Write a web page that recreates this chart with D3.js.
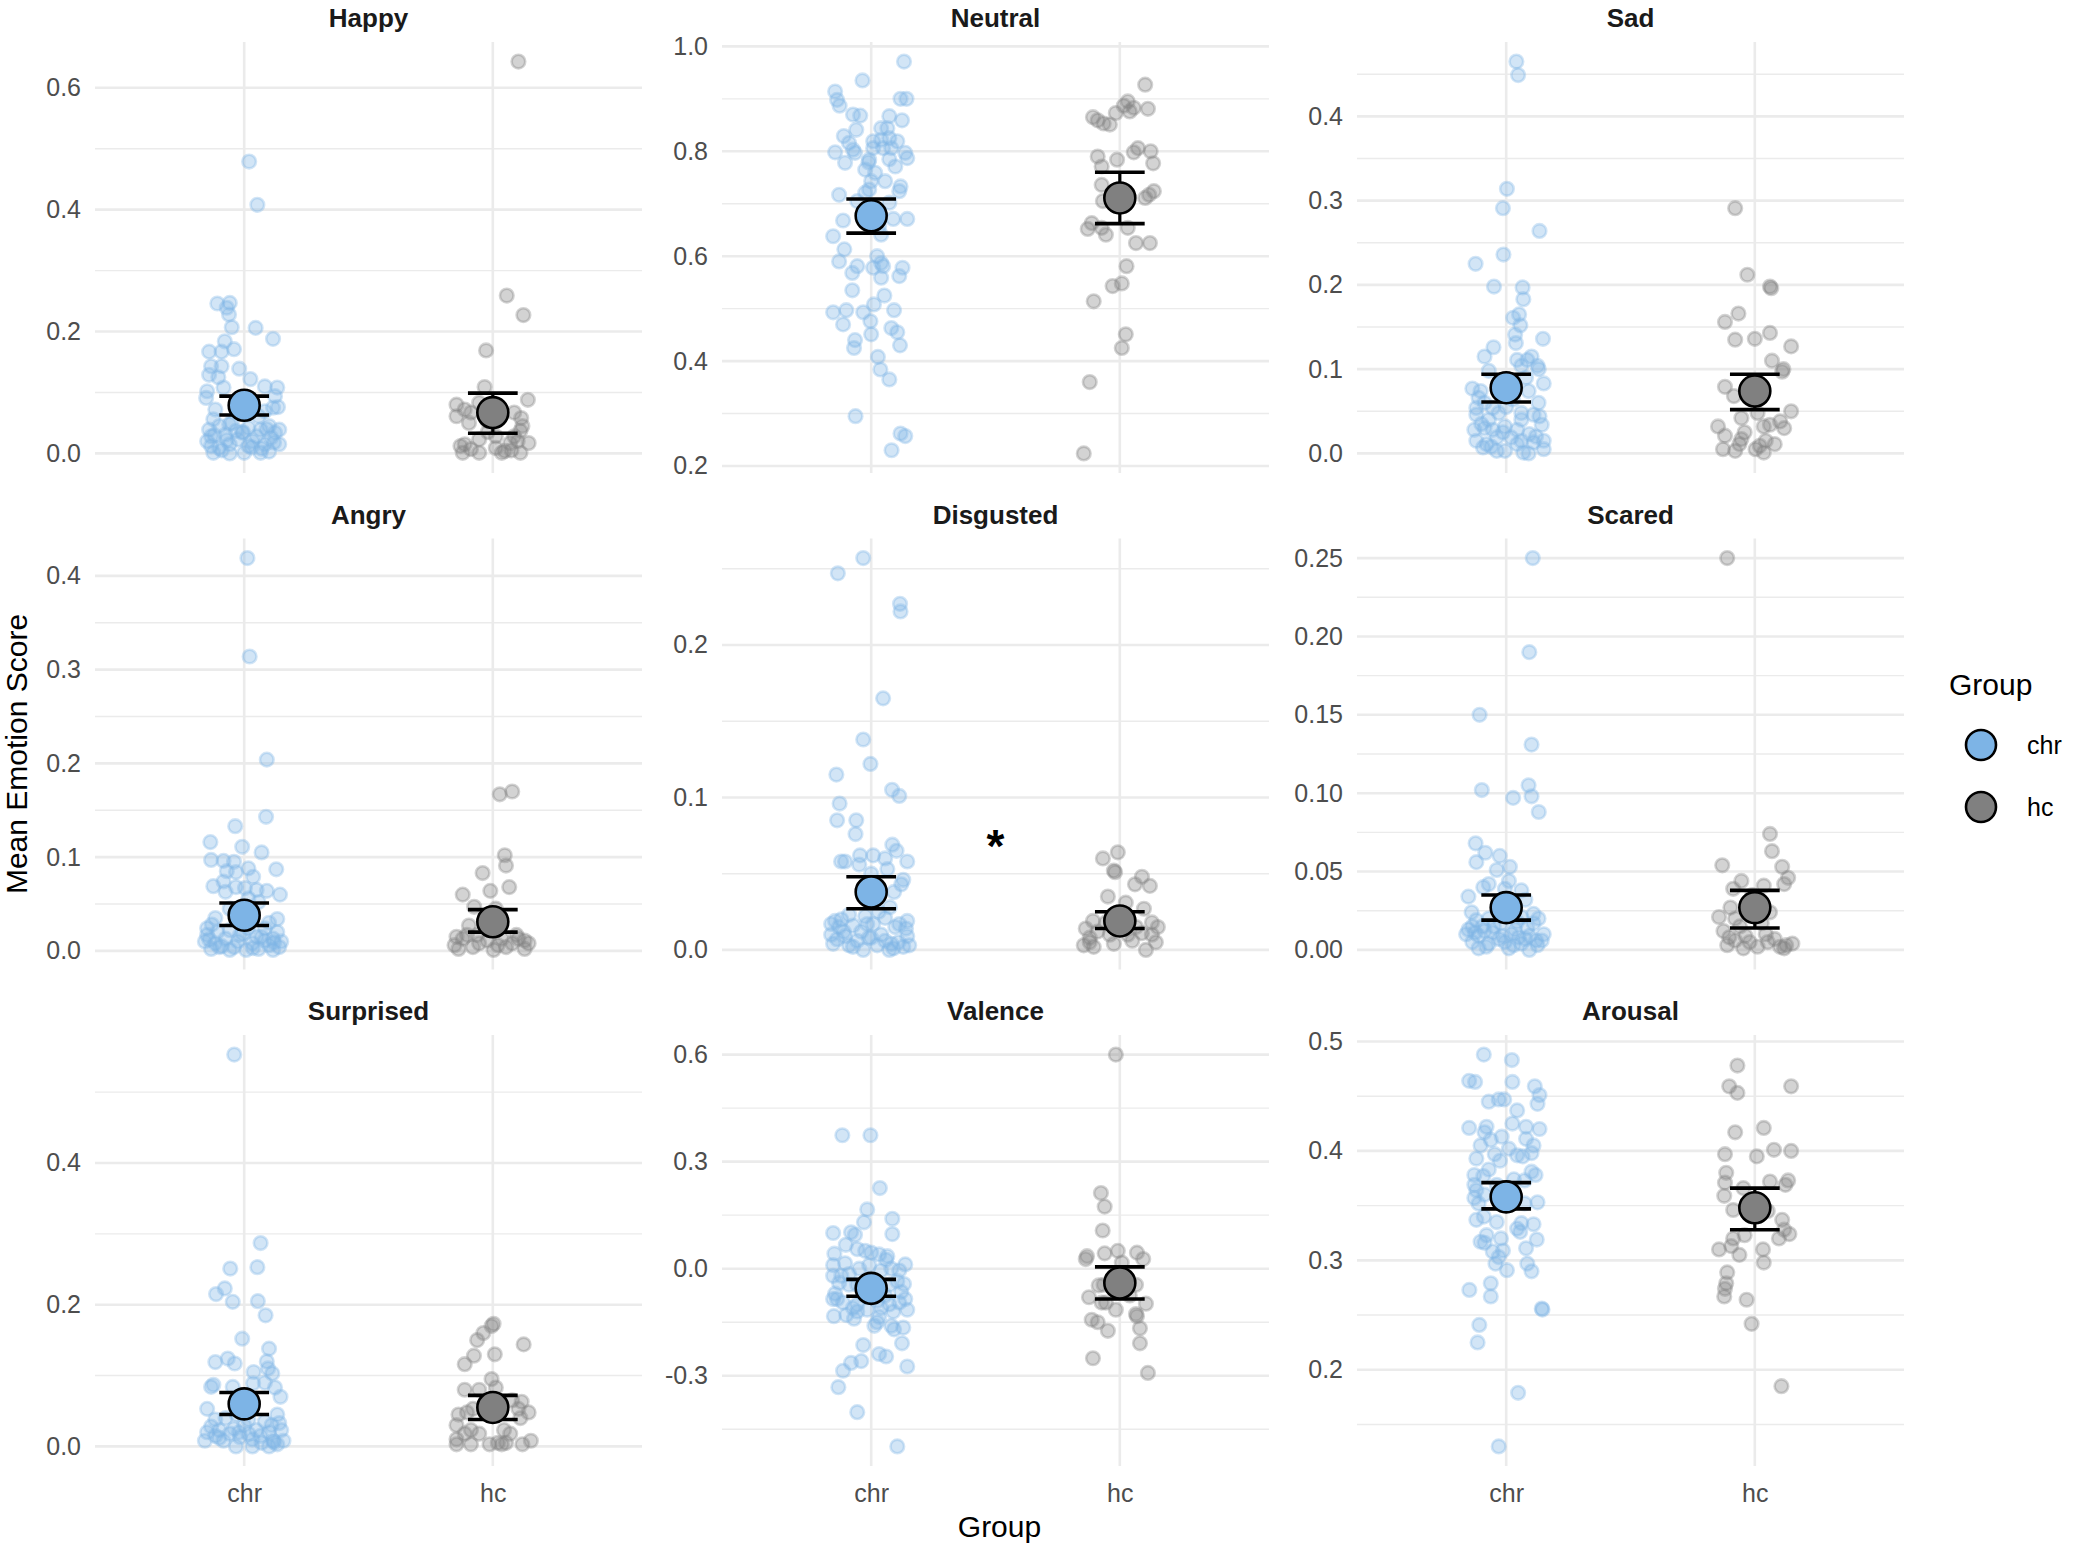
<!DOCTYPE html>
<html><head><meta charset="utf-8">
<script src="https://cdn.jsdelivr.net/npm/d3@7"></script>
<style>body{margin:0;background:#fff}svg{display:block}</style>
</head><body>
<svg id="chart" width="2075" height="1548"></svg>
<script>
// ---------- DATA ----------
const emotions = ["Happy","Neutral","Sad","Angry","Disgusted","Scared","Surprised","Valence","Arousal"];
const groups = ["chr","hc"];

// summary (mean and error-bar limits) per emotion
const meanChr = [0.079, 0.677, 0.078, 0.038, 0.038, 0.027, 0.060, -0.055, 0.358];
const loChr   = [0.063, 0.644, 0.061, 0.027, 0.027, 0.019, 0.045, -0.077, 0.347];
const hiChr   = [0.094, 0.709, 0.094, 0.051, 0.048, 0.035, 0.076, -0.030, 0.371];
const meanHc  = [0.067, 0.711, 0.074, 0.031, 0.019, 0.027, 0.055, -0.040, 0.348];
const loHc    = [0.033, 0.662, 0.052, 0.020, 0.014, 0.014, 0.038, -0.085, 0.328];
const hiHc    = [0.099, 0.760, 0.094, 0.044, 0.025, 0.038, 0.072, 0.005, 0.366];

// tick values / labels per panel
const ticksHappy = [0, 0.2, 0.4, 0.6];            const labelsHappy = ["0.0","0.2","0.4","0.6"];
const ticksNeutral = [0.2, 0.4, 0.6, 0.8, 1.0];   const labelsNeutral = ["0.2","0.4","0.6","0.8","1.0"];
const ticksSad = [0, 0.1, 0.2, 0.3, 0.4];         const labelsSad = ["0.0","0.1","0.2","0.3","0.4"];
const ticksAngry = [0, 0.1, 0.2, 0.3, 0.4];       const labelsAngry = ["0.0","0.1","0.2","0.3","0.4"];
const ticksDisgusted = [0, 0.1, 0.2];             const labelsDisgusted = ["0.0","0.1","0.2"];
const ticksScared = [0, 0.05, 0.10, 0.15, 0.20, 0.25]; const labelsScared = ["0.00","0.05","0.10","0.15","0.20","0.25"];
const ticksSurprised = [0, 0.2, 0.4];             const labelsSurprised = ["0.0","0.2","0.4"];
const ticksValence = [-0.3, 0, 0.3, 0.6];         const labelsValence = ["-0.3","0.0","0.3","0.6"];
const ticksArousal = [0.2, 0.3, 0.4, 0.5];        const labelsArousal = ["0.2","0.3","0.4","0.5"];

// significance annotation
const annotPanel = ["Disgusted"];
const annotY = [0.072];
const annotText = ["*"];

// individual participant scores (values) and their jitter offsets (in category units)
const happyChr = [0.479,0.408,0.246,0.247,0.239,0.228,0.207,0.206,0.188,0.184,0.167,0.167,0.171,0.143,0.143,0.139,0.129,0.125,0.122,0.102,0.108,0.110,0.108,0.091,0.094,0.075,0.076,0.069,0.056,0.039,0.045,0.050,0.042,0.039,0.034,0.039,0.028,0.031,0.034,0.028,0.026,0.012,0.009,0.015,0.012,0.015,0.015,0.001,0.0,0.001,0.001,0.020,0.023,0.020,0.045,0.037,0.072,0.061,0.005,0.018,0.03,0.008,0.04,0.022,0.01,0.035,0.003,0.048];
const happyChrJit = [0.02,0.053,-0.108,-0.058,-0.07,-0.061,-0.05,0.046,0.116,-0.078,-0.141,-0.091,-0.041,-0.133,-0.091,-0.02,-0.141,-0.104,0.025,-0.149,-0.083,0.083,0.133,-0.153,0.124,0.116,0.136,0.083,-0.124,-0.141,-0.1,-0.05,0.017,0.066,0.124,0.141,-0.133,-0.075,-0.008,0.05,0.108,-0.133,-0.1,-0.058,0.017,0.083,0.141,-0.124,-0.058,0.0,0.066,-0.149,-0.025,0.033,0.1,-0.033,-0.116,0.058,-0.09,0.12,-0.12,0.07,0.09,-0.07,0.03,-0.005,0.1,-0.06];
const happyHc = [0.643,0.259,0.227,0.169,0.109,0.088,0.080,0.083,0.061,0.067,0.050,0.058,0.045,0.037,0.028,0.017,0.015,0.023,0.028,0.017,0.001,0.001,0.001,0.004,0.001,0.009,0.007,0.053,0.067,0.072,0.012,0.035,0.005,0.02];
const happyHcJit = [0.103,0.056,0.123,-0.027,-0.033,0.141,-0.146,-0.055,-0.146,-0.088,-0.096,0.114,0.119,0.111,0.086,0.144,-0.113,-0.055,0.012,0.07,-0.121,-0.055,0.036,0.048,0.111,0.012,-0.088,-0.022,0.086,-0.113,-0.13,-0.02,0.075,0.1];

const neutralChr = [0.971,0.935,0.914,0.898,0.887,0.90,0.90,0.870,0.868,0.867,0.859,0.841,0.844,0.844,0.829,0.816,0.819,0.822,0.825,0.819,0.798,0.803,0.797,0.806,0.806,0.806,0.797,0.787,0.778,0.784,0.779,0.785,0.765,0.771,0.759,0.743,0.743,0.733,0.727,0.724,0.717,0.721,0.705,0.702,0.668,0.671,0.671,0.657,0.638,0.641,0.613,0.590,0.600,0.587,0.581,0.581,0.568,0.578,0.578,0.562,0.559,0.535,0.525,0.508,0.493,0.497,0.493,0.497,0.470,0.476,0.463,0.455,0.451,0.440,0.430,0.425,0.408,0.384,0.365,0.295,0.262,0.257,0.230];
const neutralChrJit = [0.132,-0.035,-0.145,-0.137,-0.127,0.118,0.142,-0.073,-0.044,0.073,0.124,-0.06,0.04,0.065,-0.11,-0.089,0.008,0.04,0.073,0.105,-0.145,-0.073,-0.065,0.008,0.048,0.081,0.137,0.145,-0.105,-0.008,-0.011,0.073,-0.024,0.097,0.016,0.056,0.0,0.118,-0.008,0.113,-0.129,-0.024,-0.056,0.073,-0.113,0.089,0.145,0.032,-0.153,0.04,-0.108,-0.129,0.024,0.04,0.048,-0.056,-0.076,0.008,0.126,0.113,0.04,-0.076,0.053,0.011,-0.153,-0.1,-0.032,0.092,-0.113,-0.003,0.081,0.105,0.0,-0.065,0.116,-0.069,0.027,0.037,0.073,-0.063,0.118,0.137,0.082];
const neutralHc = [0.927,0.895,0.887,0.883,0.881,0.873,0.876,0.865,0.859,0.853,0.851,0.806,0.798,0.800,0.790,0.784,0.777,0.771,0.736,0.724,0.717,0.711,0.705,0.663,0.652,0.654,0.641,0.654,0.625,0.625,0.581,0.543,0.548,0.514,0.451,0.425,0.360,0.224];
const neutralHcJit = [0.102,0.032,0.016,0.056,0.113,-0.016,0.04,-0.108,-0.089,-0.065,-0.04,0.073,0.056,0.124,-0.089,-0.011,0.134,-0.073,-0.073,0.137,0.118,0.102,-0.068,-0.113,-0.129,-0.073,-0.056,0.032,0.065,0.121,0.027,-0.029,0.008,-0.105,0.024,0.008,-0.121,-0.145];

const sadChr = [0.465,0.449,0.314,0.291,0.264,0.236,0.225,0.198,0.197,0.183,0.161,0.165,0.152,0.141,0.136,0.131,0.126,0.115,0.115,0.111,0.111,0.104,0.098,0.104,0.100,0.083,0.077,0.074,0.074,0.066,0.060,0.064,0.054,0.054,0.046,0.048,0.048,0.046,0.044,0.040,0.028,0.030,0.028,0.032,0.028,0.023,0.034,0.025,0.015,0.011,0.019,0.015,0.013,0.015,0.003,0.003,0.001,0.0,0.005,0.007,0.011,0.019,0.055,0.07,0.035,0.02,0.008,0.09,0.06,0.04];
const sadChrJit = [0.041,0.048,0.003,-0.013,0.134,-0.011,-0.123,-0.049,0.066,0.069,0.028,0.052,0.057,0.036,0.148,0.039,-0.051,-0.087,0.102,0.085,0.044,0.126,-0.07,0.061,0.131,0.151,-0.136,-0.103,0.09,-0.111,-0.087,0.028,-0.12,-0.054,-0.12,-0.03,0.061,0.11,0.134,0.061,-0.128,-0.087,-0.054,-0.005,0.044,0.093,0.143,-0.013,-0.12,-0.079,-0.038,0.061,0.11,0.151,-0.038,-0.005,0.069,0.09,0.151,-0.093,0.044,0.02,0.0,0.02,-0.1,0.12,-0.06,0.08,0.13,-0.07];
const sadHc = [0.291,0.212,0.198,0.196,0.166,0.156,0.135,0.136,0.143,0.127,0.110,0.100,0.097,0.079,0.068,0.050,0.042,0.048,0.038,0.032,0.025,0.032,0.034,0.030,0.021,0.017,0.011,0.015,0.011,0.005,0.003,0.005,0.001,0.009];
const sadHcJit = [-0.079,-0.03,0.061,0.066,-0.066,-0.12,-0.079,0.0,0.061,0.146,0.069,0.115,0.11,-0.12,-0.084,0.146,-0.054,0.011,0.102,-0.148,-0.041,0.036,0.061,0.118,-0.12,-0.054,-0.062,0.044,0.08,-0.128,-0.079,0.003,0.036,0.02];

const angryChr = [0.419,0.314,0.204,0.143,0.133,0.116,0.111,0.105,0.097,0.096,0.095,0.087,0.085,0.084,0.088,0.079,0.069,0.074,0.068,0.067,0.065,0.064,0.060,0.063,0.056,0.052,0.035,0.045,0.034,0.017,0.020,0.022,0.024,0.024,0.020,0.010,0.008,0.013,0.010,0.008,0.011,0.010,0.002,0.001,0.001,0.002,0.001,0.004,0.006,0.024,0.017,0.015,0.013,0.004,0.004,0.005,0.015,0.028,0.009,0.003,0.018,0.03,0.012];
const angryChrJit = [0.013,0.022,0.091,0.088,-0.036,-0.136,-0.008,0.07,-0.133,-0.083,-0.041,0.129,-0.07,-0.033,0.017,0.036,-0.124,-0.083,-0.033,0.003,0.05,0.091,0.144,-0.075,0.017,0.058,-0.116,-0.058,0.133,-0.149,-0.108,-0.058,0.017,0.083,0.133,-0.158,-0.116,-0.075,-0.025,0.033,0.083,0.149,-0.133,-0.058,0.008,0.058,0.116,-0.1,0.1,-0.149,-0.017,0.05,0.116,-0.041,0.141,-0.09,0.07,-0.13,0.12,0.035,-0.005,0.1,-0.14];
const angryHc = [0.170,0.167,0.102,0.091,0.083,0.068,0.064,0.060,0.047,0.045,0.027,0.015,0.013,0.017,0.011,0.013,0.017,0.011,0.008,0.002,0.004,0.001,0.004,0.002,0.008,0.008,0.013,0.006,0.006,0.017];
const angryHcJit = [0.078,0.028,0.048,0.053,-0.041,0.066,-0.01,-0.121,-0.075,0.012,-0.096,-0.146,-0.121,-0.063,-0.022,0.036,0.095,0.128,0.144,-0.138,-0.08,0.003,0.053,0.128,0.078,-0.055,0.103,-0.154,0.02,-0.104];

const disgustedChr = [0.257,0.247,0.227,0.222,0.165,0.138,0.122,0.115,0.105,0.101,0.096,0.085,0.085,0.076,0.069,0.065,0.058,0.058,0.062,0.062,0.060,0.058,0.056,0.053,0.050,0.046,0.043,0.038,0.019,0.023,0.022,0.021,0.019,0.015,0.016,0.017,0.015,0.010,0.009,0.012,0.010,0.009,0.004,0.003,0.0,0.003,0.004,0.002,0.003,0.006,0.006,0.007,0.008,0.017,0.002,0.0,0.017,0.017,0.025,0.012,0.005,0.02,0.014,0.008,0.028,0.001];
const disgustedChrJit = [-0.032,-0.134,0.116,0.118,0.048,-0.032,-0.003,-0.14,0.084,0.113,-0.127,-0.137,-0.06,-0.063,0.085,0.102,-0.121,-0.105,-0.045,0.008,0.056,0.145,-0.048,0.065,0.0,0.129,0.121,0.092,-0.145,-0.089,-0.024,0.056,0.145,-0.129,-0.073,0.008,0.097,-0.161,-0.105,-0.04,0.04,0.145,-0.153,-0.089,-0.032,0.024,0.081,0.129,0.153,-0.056,0.056,-0.137,0.0,0.113,-0.073,0.073,-0.161,-0.016,0.03,-0.11,0.11,-0.12,0.14,-0.01,0.075,0.09];
const disgustedHc = [0.064,0.060,0.052,0.051,0.048,0.043,0.042,0.035,0.031,0.027,0.019,0.018,0.018,0.014,0.015,0.008,0.010,0.010,0.011,0.003,0.002,0.004,0.0,0.005,0.005,0.015,0.010,0.022,0.006,0.012];
const disgustedHcJit = [-0.008,-0.068,-0.024,-0.019,0.089,0.061,0.121,-0.048,0.024,0.097,-0.108,-0.056,0.129,-0.137,0.153,-0.121,-0.04,0.032,0.089,-0.145,-0.105,-0.024,0.105,0.145,-0.121,0.065,0.129,0.0,0.05,-0.09];

const scaredChr = [0.250,0.190,0.150,0.131,0.102,0.105,0.097,0.098,0.088,0.068,0.062,0.060,0.056,0.053,0.051,0.044,0.042,0.040,0.039,0.038,0.034,0.032,0.024,0.023,0.019,0.020,0.021,0.015,0.015,0.017,0.018,0.017,0.010,0.009,0.011,0.010,0.009,0.010,0.005,0.004,0.005,0.004,0.003,0.001,0.001,0.0,0.007,0.007,0.013,0.013,0.006,0.012,0.008,0.015,0.003,0.02,0.011,0.006,0.025,0.014,0.002,0.009];
const scaredChrJit = [0.107,0.093,-0.107,0.102,-0.098,0.09,0.028,0.102,0.131,-0.123,-0.084,-0.026,-0.12,0.015,-0.038,0.011,-0.07,-0.092,-0.005,0.061,-0.152,0.077,-0.139,0.11,-0.12,-0.07,0.061,-0.136,-0.095,-0.021,0.044,0.11,-0.161,-0.111,-0.054,0.02,0.093,0.151,-0.136,-0.07,-0.005,0.061,0.126,-0.111,0.011,0.093,-0.03,0.077,-0.152,0.036,0.143,-0.087,0.05,-0.05,0.03,0.13,-0.125,0.12,-0.03,0.085,-0.08,-0.015];
const scaredHc = [0.250,0.074,0.063,0.054,0.053,0.046,0.042,0.044,0.039,0.041,0.027,0.021,0.020,0.024,0.012,0.008,0.009,0.010,0.003,0.001,0.002,0.002,0.003,0.004,0.001,0.005,0.005,0.006,0.017,0.035,0.015,0.007];
const scaredHcJit = [-0.111,0.061,0.069,-0.131,0.11,0.134,0.118,-0.054,-0.087,0.036,-0.098,-0.144,-0.079,0.061,-0.126,-0.103,-0.038,0.044,-0.111,-0.046,0.011,0.102,0.126,0.151,0.118,-0.021,0.052,-0.079,0.028,-0.01,-0.06,0.08];

const surprisedChr = [0.553,0.287,0.251,0.253,0.223,0.215,0.204,0.205,0.185,0.152,0.138,0.119,0.124,0.117,0.120,0.110,0.105,0.103,0.087,0.084,0.090,0.083,0.084,0.089,0.070,0.053,0.045,0.038,0.040,0.038,0.035,0.033,0.020,0.023,0.025,0.023,0.020,0.023,0.008,0.008,0.013,0.010,0.008,0.008,0.015,0.0,0.0,0.0,0.003,0.018,0.018,0.015,0.028,0.030,0.005,0.012,0.03,0.02,0.045,0.006];
const surprisedChrJit = [-0.04,0.066,-0.056,0.053,-0.078,-0.113,-0.046,0.055,0.086,-0.008,0.1,-0.116,-0.066,-0.038,0.091,0.096,0.038,0.113,-0.124,-0.133,0.083,0.124,-0.046,0.036,0.146,-0.149,0.133,-0.116,-0.075,0.017,0.083,0.141,-0.149,-0.1,-0.041,0.05,0.1,0.149,-0.158,-0.083,-0.017,0.033,0.116,0.158,-0.116,-0.033,0.033,0.1,0.133,0.017,-0.058,0.066,-0.133,0.0,0.07,-0.1,0.11,-0.02,-0.03,0.12];
const surprisedHc = [0.173,0.170,0.160,0.150,0.144,0.128,0.130,0.116,0.095,0.080,0.080,0.083,0.065,0.063,0.045,0.048,0.053,0.048,0.053,0.030,0.023,0.018,0.023,0.018,0.010,0.003,0.003,0.005,0.005,0.003,0.008,0.003,0.003,0.018,0.040];
const surprisedHcJit = [0.003,-0.005,-0.038,-0.063,0.124,-0.076,0.008,-0.113,-0.005,-0.113,-0.055,0.012,0.078,0.116,-0.138,-0.104,-0.08,0.144,0.103,-0.146,-0.088,-0.055,0.045,0.07,-0.146,-0.088,-0.013,0.02,0.053,0.119,0.153,-0.146,0.036,-0.113,0.111];

const valenceChr = [0.374,0.374,0.226,0.166,0.140,0.130,0.100,0.102,0.095,0.097,0.067,0.055,0.050,0.045,0.042,0.040,0.035,0.012,0.010,0.015,0.0,-0.005,0.0,-0.005,-0.020,-0.015,-0.040,-0.043,-0.045,-0.045,-0.065,-0.070,-0.085,-0.085,-0.085,-0.095,-0.100,-0.100,-0.095,-0.110,-0.110,-0.115,-0.120,-0.120,-0.133,-0.140,-0.135,-0.150,-0.160,-0.160,-0.165,-0.170,-0.209,-0.214,-0.239,-0.246,-0.259,-0.264,-0.274,-0.286,-0.332,-0.402,-0.498,0.010,-0.075,-0.075,-0.035,-0.045,-0.115,-0.06,-0.02,-0.09,0.025,-0.13];
const valenceChrJit = [-0.116,-0.003,0.035,-0.016,0.085,-0.029,-0.153,-0.081,-0.065,0.085,-0.102,-0.056,-0.024,0.0,-0.148,0.032,0.065,0.137,-0.153,-0.105,-0.048,0.04,0.081,0.113,-0.153,-0.089,-0.129,0.132,-0.056,0.073,0.121,-0.145,-0.137,-0.153,0.137,-0.113,-0.056,0.073,0.113,-0.073,0.04,0.145,-0.056,0.089,-0.15,-0.069,0.032,0.024,0.013,0.081,0.129,0.092,0.124,-0.032,0.032,0.06,-0.04,-0.081,0.145,-0.113,-0.132,-0.056,0.105,-0.008,-0.032,0.056,0.105,-0.089,-0.016,0.0,-0.12,0.025,0.06,-0.1];
const valenceHc = [0.600,0.212,0.174,0.107,0.035,0.027,0.043,0.050,0.045,0.027,0.017,-0.047,-0.045,-0.080,-0.095,-0.115,-0.098,-0.127,-0.133,-0.143,-0.150,-0.174,-0.167,-0.209,-0.251,-0.292,-0.075,-0.045,-0.025,-0.095];
const valenceHcJit = [-0.016,-0.076,-0.061,-0.069,-0.132,-0.137,-0.061,-0.008,0.069,0.094,0.008,-0.085,-0.065,-0.124,-0.073,-0.016,0.105,0.065,0.069,-0.113,-0.089,-0.048,0.081,0.081,-0.108,0.113,0.04,0.065,0.008,-0.056];

const arousalChr = [0.488,0.483,0.464,0.463,0.463,0.459,0.451,0.443,0.445,0.447,0.447,0.437,0.425,0.421,0.422,0.422,0.420,0.417,0.413,0.410,0.411,0.405,0.405,0.402,0.398,0.396,0.395,0.397,0.393,0.391,0.383,0.378,0.381,0.378,0.377,0.374,0.373,0.369,0.364,0.369,0.357,0.352,0.353,0.352,0.337,0.340,0.335,0.334,0.333,0.329,0.326,0.323,0.320,0.319,0.317,0.311,0.316,0.308,0.309,0.303,0.297,0.291,0.297,0.290,0.273,0.279,0.267,0.256,0.255,0.241,0.225,0.179,0.130,0.358,0.360];
const arousalChrJit = [-0.09,0.023,-0.149,-0.125,0.025,0.115,0.134,0.126,-0.07,-0.03,-0.008,0.044,0.025,-0.149,-0.079,0.08,0.134,-0.087,-0.018,-0.062,0.08,0.11,-0.103,0.011,0.102,0.044,0.066,-0.046,-0.12,-0.025,-0.07,-0.128,0.102,0.118,-0.092,0.031,0.074,-0.128,-0.12,-0.038,-0.128,-0.111,0.126,0.074,-0.12,-0.09,-0.038,0.061,0.11,0.044,0.056,-0.079,-0.021,0.123,-0.103,0.08,-0.087,-0.054,-0.013,-0.03,-0.043,0.003,0.085,0.102,-0.148,-0.062,-0.062,0.143,0.146,-0.108,-0.115,0.048,-0.03,-0.005,-0.087];
const arousalHc = [0.478,0.459,0.453,0.459,0.417,0.421,0.401,0.400,0.397,0.395,0.380,0.371,0.372,0.373,0.369,0.366,0.359,0.346,0.345,0.337,0.328,0.324,0.320,0.323,0.320,0.310,0.313,0.310,0.305,0.298,0.289,0.279,0.274,0.267,0.264,0.242,0.185];
const arousalHcJit = [-0.07,-0.103,-0.07,0.146,-0.079,0.036,0.077,0.146,-0.12,0.008,-0.115,-0.12,0.061,0.134,0.123,-0.046,-0.123,-0.087,0.052,0.11,0.118,0.139,0.097,-0.041,-0.087,-0.144,-0.095,0.033,-0.062,0.036,-0.111,-0.115,-0.12,-0.123,-0.033,-0.013,0.107];

// ---------- assemble ----------
const chrValues = [happyChr, neutralChr, sadChr, angryChr, disgustedChr, scaredChr, surprisedChr, valenceChr, arousalChr];
const chrJitter = [happyChrJit, neutralChrJit, sadChrJit, angryChrJit, disgustedChrJit, scaredChrJit, surprisedChrJit, valenceChrJit, arousalChrJit];
const hcValues = [happyHc, neutralHc, sadHc, angryHc, disgustedHc, scaredHc, surprisedHc, valenceHc, arousalHc];
const hcJitter = [happyHcJit, neutralHcJit, sadHcJit, angryHcJit, disgustedHcJit, scaredHcJit, surprisedHcJit, valenceHcJit, arousalHcJit];
const tickSets = [ticksHappy, ticksNeutral, ticksSad, ticksAngry, ticksDisgusted, ticksScared, ticksSurprised, ticksValence, ticksArousal];
const labelSets = [labelsHappy, labelsNeutral, labelsSad, labelsAngry, labelsDisgusted, labelsScared, labelsSurprised, labelsValence, labelsArousal];

// ---------- layout / style ----------
const FONT = '"Liberation Sans", Arial, Helvetica, sans-serif';
const colLeft = [95, 722, 1357];
const rowTop = [42, 538.5, 1035];
const panelW = 547, panelH = 431;
const fillColor = {chr: "#7DB4E6", hc: "#808080"};
const gridColor = "#EBEBEB";

const svg = d3.select("#chart");
svg.append("rect").attr("width", 2075).attr("height", 1548).attr("fill", "#fff");

function zip(vals, jits) {
  const n = Math.min(vals.length, jits.length);
  const out = [];
  for (let k = 0; k < n; k++) out.push({v: vals[k], j: jits[k]});
  return out;
}

emotions.forEach((name, i) => {
  const col = i % 3, row = Math.floor(i / 3);
  const left = colLeft[col], top = rowTop[row];
  const chrPts = zip(chrValues[i], chrJitter[i]);
  const hcPts = zip(hcValues[i], hcJitter[i]);
  const allVals = chrValues[i].concat(hcValues[i], [loChr[i], hiChr[i], loHc[i], hiHc[i]]);
  const lo = d3.min(allVals), hi = d3.max(allVals);
  const pad = (hi - lo) * 0.05;
  const y = d3.scaleLinear().domain([lo - pad, hi + pad]).range([top + panelH, top]);
  const x = d3.scalePoint().domain(groups).range([left, left + panelW]).padding(0.6);
  const step = x.step();
  const ticks = tickSets[i], labels = labelSets[i];

  const g = svg.append("g").attr("class", "panel");

  // minor grid
  const tstep = ticks[1] - ticks[0];
  const minor = [ticks[0] - tstep / 2].concat(ticks.map(t => t + tstep / 2))
    .filter(m => m >= y.domain()[0] && m <= y.domain()[1]);
  g.selectAll("line.minor").data(minor).enter().append("line")
    .attr("x1", left).attr("x2", left + panelW)
    .attr("y1", d => y(d)).attr("y2", d => y(d))
    .attr("stroke", gridColor).attr("stroke-width", 1.4);
  // major grid
  g.selectAll("line.major").data(ticks).enter().append("line")
    .attr("x1", left).attr("x2", left + panelW)
    .attr("y1", d => y(d)).attr("y2", d => y(d))
    .attr("stroke", gridColor).attr("stroke-width", 2.6);
  g.selectAll("line.vmajor").data(groups).enter().append("line")
    .attr("x1", d => x(d)).attr("x2", d => x(d))
    .attr("y1", top).attr("y2", top + panelH)
    .attr("stroke", gridColor).attr("stroke-width", 2.6);

  // y axis
  const ax = g.append("g").attr("transform", `translate(${left},0)`)
    .call(d3.axisLeft(y).tickValues(ticks).tickFormat((d, k) => labels[k]).tickSize(0).tickPadding(14));
  ax.select(".domain").remove();
  ax.selectAll("text").attr("font-family", FONT).attr("font-size", 25).attr("fill", "#4D4D4D");

  // x axis (bottom row only)
  if (row === 2) {
    const bx = g.append("g").attr("transform", `translate(0,${top + panelH})`)
      .call(d3.axisBottom(x).tickSize(0).tickPadding(18));
    bx.select(".domain").remove();
    bx.selectAll("text").attr("font-family", FONT).attr("font-size", 25).attr("fill", "#4D4D4D");
  }

  // jittered points
  [["chr", chrPts], ["hc", hcPts]].forEach(([grp, pts]) => {
    g.selectAll(null).data(pts).enter().append("circle")
      .attr("cx", d => x(grp) + d.j * step)
      .attr("cy", d => y(d.v))
      .attr("r", 6.8)
      .attr("fill", fillColor[grp]).attr("fill-opacity", 0.35)
      .attr("stroke", fillColor[grp]).attr("stroke-opacity", 0.35).attr("stroke-width", 2.6);
  });

  // error bars + means
  const summ = [
    {grp: "chr", m: meanChr[i], lo: loChr[i], hi: hiChr[i]},
    {grp: "hc", m: meanHc[i], lo: loHc[i], hi: hiHc[i]}
  ];
  summ.forEach(s => {
    const cx = x(s.grp);
    g.append("line").attr("x1", cx).attr("x2", cx).attr("y1", y(s.lo)).attr("y2", y(s.hi))
      .attr("stroke", "#000").attr("stroke-width", 3.2);
    [s.lo, s.hi].forEach(v => {
      g.append("line").attr("x1", cx - 0.1 * step).attr("x2", cx + 0.1 * step)
        .attr("y1", y(v)).attr("y2", y(v)).attr("stroke", "#000").attr("stroke-width", 3.6);
    });
    g.append("circle").attr("cx", cx).attr("cy", y(s.m)).attr("r", 15.5)
      .attr("fill", fillColor[s.grp]).attr("stroke", "#000").attr("stroke-width", 2.6);
  });

  // annotation
  annotPanel.forEach((p, k) => {
    if (p !== name) return;
    const mx = (x(groups[0]) + x(groups[1])) / 2;
    g.append("text").attr("x", mx).attr("y", y(annotY[k])).attr("dy", "0.48em")
      .attr("text-anchor", "middle").attr("font-family", FONT).attr("font-weight", "bold")
      .attr("font-size", 46).attr("fill", "#000").text(annotText[k]);
  });

  // strip title
  g.append("text").attr("x", left + panelW / 2).attr("y", top - 15)
    .attr("text-anchor", "middle").attr("font-family", FONT).attr("font-weight", "bold")
    .attr("font-size", 26).attr("fill", "#1A1A1A").text(name);
});

// axis titles
svg.append("text").attr("transform", "translate(27,754) rotate(-90)")
  .attr("text-anchor", "middle").attr("font-family", FONT).attr("font-size", 30)
  .attr("fill", "#000").text("Mean Emotion Score");
svg.append("text").attr("x", (colLeft[0] + colLeft[2] + panelW) / 2).attr("y", 1537)
  .attr("text-anchor", "middle").attr("font-family", FONT).attr("font-size", 30)
  .attr("fill", "#000").text("Group");

// legend
const leg = svg.append("g");
leg.append("text").attr("x", 1949).attr("y", 695).attr("font-family", FONT).attr("font-size", 30)
  .attr("fill", "#000").text("Group");
groups.forEach((grp, k) => {
  const cy = 745 + k * 62;
  leg.append("circle").attr("cx", 1981).attr("cy", cy).attr("r", 15)
    .attr("fill", fillColor[grp]).attr("stroke", "#000").attr("stroke-width", 2.6);
  leg.append("text").attr("x", 2027).attr("y", cy).attr("dy", "0.35em")
    .attr("font-family", FONT).attr("font-size", 25).attr("fill", "#000").text(grp);
});
</script>
</body></html>
